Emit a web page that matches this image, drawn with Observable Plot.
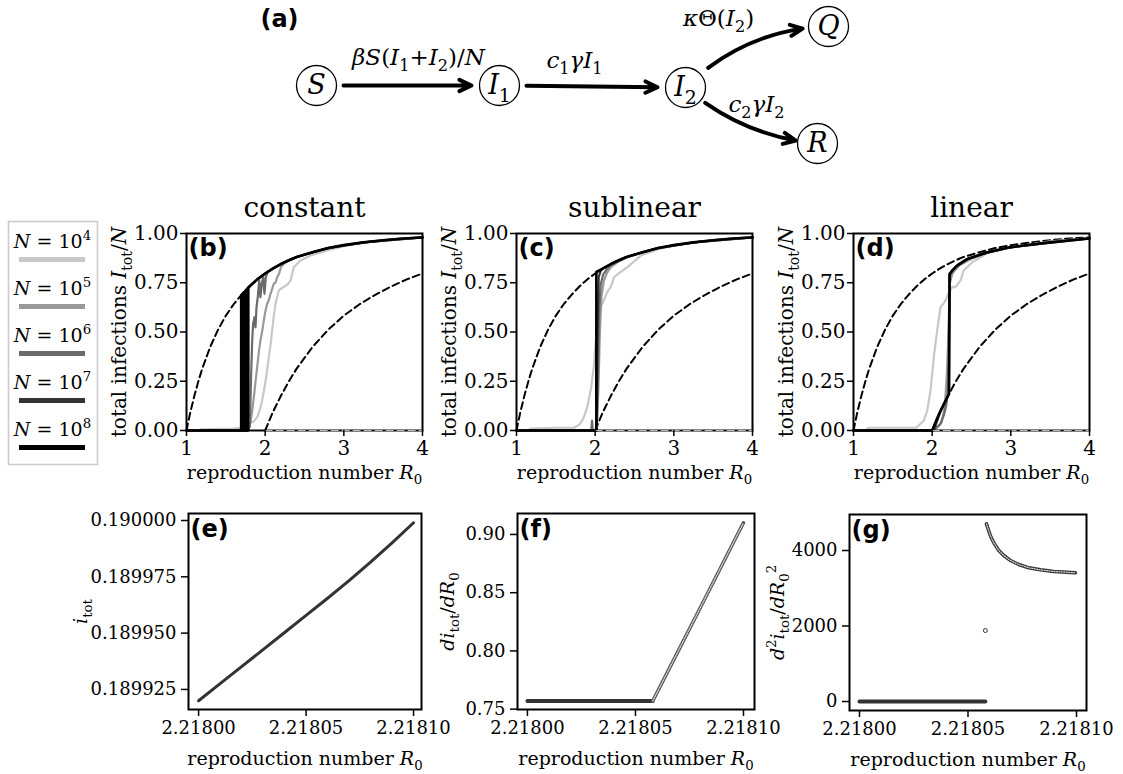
<!DOCTYPE html>
<html><head><meta charset="utf-8">
<script src="https://cdn.jsdelivr.net/npm/d3@7"></script>
<script src="https://cdn.jsdelivr.net/npm/@observablehq/plot@0.6"></script>
<style>
html,body{margin:0;padding:0;background:#fff;overflow:hidden;}
#fig{position:relative;width:1123px;height:774px;background:#fff;}
#fig svg{position:absolute;left:0;top:0;}
</style></head><body><div id="fig"></div>
<script>
// ---------------- DATA ----------------
const legendExp = [4, 5, 6, 7, 8];
const seriesColors = ["#c8c8c8", "#999999", "#6b6b6b", "#333333", "#000000"];

// deterministic branches (dashed)
const upperR0 = [1, 1.02, 1.05, 1.1, 1.15, 1.2, 1.3, 1.4, 1.5, 1.6, 1.7, 1.8, 1.9, 2.0, 2.1, 2.2, 2.3, 2.4, 2.6, 2.8, 3.0, 3.25, 3.5, 3.75, 4.0];
const upperI  = [0, 0.039, 0.095, 0.176, 0.249, 0.314, 0.423, 0.511, 0.583, 0.641, 0.689, 0.731, 0.767, 0.797, 0.823, 0.845, 0.864, 0.881, 0.905, 0.926, 0.941, 0.955, 0.966, 0.975, 0.980];
const lowerR0 = [2, 2.04, 2.1, 2.2, 2.3, 2.4, 2.6, 2.8, 3.0, 3.2, 3.4, 3.6, 3.8, 4.0];
const lowerI  = [0, 0.039, 0.095, 0.176, 0.249, 0.314, 0.423, 0.511, 0.583, 0.641, 0.689, 0.731, 0.767, 0.797];
const zeroR0 = [2, 4];
const zeroI = [0, 0];

// (b) constant
const constN4 = [[1,0],[1.15,0],[1.18,0.006],[1.3,0.007],[1.45,0.008],[1.6,0.01],[1.72,0.015],[1.78,0.025],[1.8,0.034],[1.85,0.045],[1.9,0.068],[1.95,0.13],[1.985,0.203],[2.02,0.29],[2.046,0.372],[2.07,0.44],[2.089,0.508],[2.11,0.58],[2.131,0.643],[2.174,0.711],[2.2,0.72],[2.237,0.728],[2.28,0.74],[2.322,0.761],[2.364,0.829],[2.45,0.863],[2.576,0.888],[2.79,0.914],[3.0,0.936],[3.25,0.953],[3.5,0.965],[3.75,0.974],[4,0.98]];
const constN5 = [[1,0],[1.76,0],[1.79,0.01],[1.813,0.042],[1.835,0.1],[1.856,0.169],[1.878,0.25],[1.898,0.321],[1.92,0.4],[1.94,0.457],[1.96,0.5],[1.983,0.558],[2.0,0.6],[2.025,0.643],[2.045,0.66],[2.068,0.694],[2.09,0.72],[2.11,0.745],[2.13,0.75],[2.153,0.778],[2.18,0.8],[2.2,0.83],[2.25,0.852],[2.3,0.862],[2.4,0.88],[2.6,0.905],[2.8,0.926],[3.0,0.941],[3.5,0.966],[4,0.98]];
const constN6 = [[1,0],[1.77,0],[1.79,0.01],[1.805,0.02],[1.822,0.288],[1.835,0.457],[1.847,0.541],[1.864,0.575],[1.877,0.524],[1.89,0.626],[1.906,0.677],[1.924,0.761],[1.94,0.677],[1.957,0.745],[1.975,0.778],[1.991,0.694],[2.008,0.778],[2.033,0.805],[2.1,0.823],[2.2,0.845],[2.4,0.881],[2.8,0.926],[3.25,0.955],[4,0.98]];
const constN7 = [[1,0],[1.70,0],[1.70,0.689],[1.712,0.694],[1.712,0],[1.728,0],[1.728,0.70],[1.742,0.706],[1.742,0],[1.758,0],[1.758,0.712],[1.772,0.718],[1.772,0],[1.79,0],[1.79,0.727],[1.8,0.731],[1.9,0.767],[2.0,0.797],[2.2,0.845],[2.4,0.881],[2.8,0.926],[3.25,0.955],[4,0.98]];
const constN8 = [[1,0],[1.695,0],[1.695,0.687],[1.705,0.691],[1.705,0],[1.72,0],[1.72,0.698],[1.733,0.703],[1.733,0],[1.748,0],[1.748,0.709],[1.762,0.715],[1.762,0],[1.778,0],[1.778,0.722],[1.8,0.731],[1.9,0.767],[2.0,0.797],[2.1,0.823],[2.2,0.845],[2.3,0.864],[2.4,0.881],[2.6,0.905],[2.8,0.926],[3.0,0.941],[3.25,0.955],[3.5,0.966],[3.75,0.975],[4.0,0.980]];

// (c) sublinear
const subN4 = [[1,0],[1.15,0],[1.18,0.01],[1.47,0.014],[1.73,0.014],[1.8,0.03],[1.85,0.06],[1.9,0.12],[1.95,0.22],[1.985,0.33],[2.0,0.42],[2.03,0.55],[2.06,0.62],[2.11,0.66],[2.15,0.70],[2.2,0.73],[2.24,0.778],[2.32,0.804],[2.41,0.829],[2.5,0.86],[2.58,0.888],[2.8,0.92],[3.0,0.938],[3.25,0.955],[3.5,0.966],[3.75,0.975],[4,0.98]];
const subN5 = [[1,0],[1.99,0],[2.02,0.01],[2.04,0.2],[2.06,0.5],[2.08,0.68],[2.11,0.76],[2.15,0.8],[2.2,0.83],[2.3,0.858],[2.4,0.878],[2.6,0.905],[2.8,0.926],[3.0,0.941],[3.5,0.966],[4,0.98]];
const subN6 = [[1,0],[1.95,0],[1.96,0.05],[1.97,0],[2.02,0],[2.035,0.25],[2.05,0.6],[2.07,0.74],[2.1,0.79],[2.15,0.82],[2.2,0.84],[2.4,0.881],[2.8,0.926],[3.25,0.955],[4,0.98]];
const subN7 = [[1,0],[2.0,0],[2.02,0],[2.03,0.5],[2.045,0.78],[2.07,0.81],[2.1,0.823],[2.2,0.845],[2.4,0.881],[2.8,0.926],[3.25,0.955],[4,0.98]];
const subN8 = [[1,0],[2.015,0],[2.015,0.805],[2.05,0.812],[2.1,0.823],[2.2,0.845],[2.3,0.864],[2.4,0.881],[2.6,0.905],[2.8,0.926],[3.0,0.941],[3.25,0.955],[3.5,0.966],[3.75,0.975],[4.0,0.980]];

// (d) linear
const linN4 = [[1,0],[1.15,0],[1.2,0.014],[1.5,0.014],[1.8,0.015],[1.852,0.034],[1.894,0.051],[1.937,0.10],[1.979,0.203],[2.021,0.372],[2.064,0.508],[2.106,0.626],[2.14,0.643],[2.17,0.66],[2.2,0.69],[2.254,0.728],[2.296,0.728],[2.36,0.761],[2.4,0.812],[2.445,0.829],[2.509,0.854],[2.7,0.9],[3.0,0.93],[3.5,0.96],[4,0.975]];
const linN5 = [[1,0],[1.95,0],[2.05,0.01],[2.12,0.04],[2.16,0.12],[2.19,0.3],[2.21,0.55],[2.225,0.75],[2.26,0.8],[2.35,0.84],[2.5,0.872],[2.7,0.903],[3.0,0.93],[3.5,0.958],[4,0.975]];
const linN6 = [[1,0],[2.0,0],[2.1,0.03],[2.15,0.08],[2.18,0.13],[2.2,0.2],[2.21,0.4],[2.22,0.72],[2.23,0.79],[2.3,0.83],[2.45,0.868],[2.7,0.903],[3.0,0.93],[3.5,0.958],[4,0.975]];
const linN7 = [[1,0],[2.0,0],[2.02,0],[2.1,0.09],[2.2,0.172],[2.212,0.182],[2.218,0.79],[2.25,0.808],[2.318,0.836],[2.445,0.869],[2.7,0.903],[3.0,0.93],[3.42,0.95],[4,0.975]];
const linN8 = [[1,0],[2.0,0],[2.04,0.039],[2.1,0.095],[2.2,0.176],[2.215,0.186],[2.222,0.795],[2.25,0.81],[2.318,0.838],[2.445,0.871],[2.7,0.905],[3.0,0.931],[3.42,0.951],[4,0.975]];

// (e) i_tot near the transition
const eR0   = [2.21800, 2.21801, 2.21802, 2.21803, 2.21804, 2.21805, 2.21806, 2.21807, 2.21808, 2.21809, 2.21810];
const eItot = [0.1899200, 0.1899276, 0.1899351, 0.1899427, 0.1899503, 0.1899579, 0.1899655, 0.1899733, 0.1899815, 0.1899901, 0.1899990];
// (f) first derivative
const fFlatR0 = [2.21800, 2.218058];
const fFlat   = [0.757, 0.757];
const fRiseR0 = [2.218058, 2.21807, 2.21808, 2.21809, 2.21810];
const fRise   = [0.757, 0.8007, 0.8371, 0.8736, 0.910];
// (g) second derivative
const gFlatR0 = [2.21800, 2.218058];
const gFlat   = [0, 0];
const gJumpR0 = [2.218058];
const gJump   = [1880];
const gUpperR0 = [2.2180585, 2.2180595, 2.2180606, 2.2180622, 2.2180642, 2.2180665, 2.2180695, 2.2180734, 2.218078, 2.2180834, 2.2180895, 2.2180995];
const gUpper   = [4705, 4529, 4352, 4176, 4000, 3868, 3736, 3630, 3542, 3489, 3445, 3410];

// ticks
const xTicksTop = [1, 2, 3, 4];
const yTicksTop = [0, 0.25, 0.5, 0.75, 1.0];
const xTicksBottom = [2.21800, 2.21805, 2.21810];
const yTicksE = [0.189925, 0.189950, 0.189975, 0.190000];
const yTicksF = [0.75, 0.80, 0.85, 0.90];
const yTicksG = [0, 2000, 4000];

// texts
const titles = ["constant", "sublinear", "linear"];
const letters = ["(b)", "(c)", "(d)", "(e)", "(f)", "(g)"];
const ylabTop = "total infections $I$_{tot}/$N$";
const xlab = "reproduction number $R$_{0}";
const ylabBottom = ["$i$_{tot}", "$di$_{tot}/$dR$_{0}", "$d$^{2}$i$_{tot}/$dR$_{0}^{2}"];

// schematic (a)
const nodeNames  = ["S", "I1", "I2", "Q", "R"];
const nodeLabels = ["$S$", "$I$_{1}", "$I$_{2}", "$Q$", "$R$"];
const straightLinks = [[0, 1], [1, 2]];
const upLinks = [[2, 3]];
const downLinks = [[2, 4]];
const edgeLabels = ["$βS$($I$_{1}+$I$_{2})/$N$", "$c$_{1}$γI$_{1}", "$κ$Θ($I$_{2})", "$c$_{2}$γI$_{2}"];

// ---------------- LAYOUT ----------------
const W = 1123, H = 774;
const SERIF = "DejaVu Serif";
const SANS = "DejaVu Sans";
const layout = {
  topY: [233, 430],
  topX: [[186, 422], [516, 752], [853, 1089]],
  botY: [[513, 709], [513, 709], [514, 710]],
  botX: [[188, 421], [517, 754], [849, 1086]],
  nodeX: [316, 499, 685, 828, 817],
  nodeY: [85, 85, 87, 26, 143],
  edgeLabelX: [418, 574, 718, 756],
  edgeLabelY: [57, 60, 18, 104],
  aLabel: [279, 19]
};

const zip = (xs, ys) => xs.map((x, i) => [x, ys[i]]);
const X = d => d[0], Y = d => d[1];
const style = fs => ({background: "transparent", fontFamily: SERIF, fontSize: fs + "px"});
const serifText = fs => ({fontFamily: SERIF, fontSize: fs});
const letterOpts = {frameAnchor: "top-left", textAnchor: "start", lineAnchor: "top", fontFamily: SANS, fontWeight: "bold", fontSize: 24};

function topPanel(k, series) {
  const [x0, x1] = layout.topX[k];
  const [y0, y1] = layout.topY;
  return Plot.plot({
    width: W, height: H,
    marginLeft: x0, marginRight: W - x1, marginTop: y0, marginBottom: H - y1,
    x: {domain: [1, 4]}, y: {domain: [0, 1]},
    style: style(20),
    marks: [
      Plot.line(zip(upperR0, upperI), {x: X, y: Y, stroke: "black", strokeWidth: 2, strokeDasharray: "7,4"}),
      Plot.line(zip(lowerR0, lowerI), {x: X, y: Y, stroke: "black", strokeWidth: 2, strokeDasharray: "7,4"}),
      ...series.map((s, i) => Plot.line(s, {x: X, y: Y, stroke: seriesColors[i], strokeWidth: i === 4 ? 2.6 : 2.2})),
      Plot.frame({stroke: "black", strokeWidth: 2}),
      Plot.line(zip(zeroR0, zeroI), {x: X, y: Y, stroke: "#bbbbbb", strokeWidth: 1.2, strokeDasharray: "7,4"}),
      Plot.axisX({ticks: xTicksTop, tickFormat: d => String(d), tickSize: 6, tickPadding: 4, strokeWidth: 1.5, label: null, ...serifText(20)}),
      Plot.axisY({ticks: yTicksTop, tickFormat: d => d.toFixed(2), tickSize: 6, tickPadding: 2, strokeWidth: 1.5, label: null, ...serifText(20)}),
      Plot.text([letters[k]], {...letterOpts, dx: 2, dy: 5}),
      Plot.text([titles[k]], {frameAnchor: "top", textAnchor: "middle", lineAnchor: "middle", dy: -25, ...serifText(28)}),
      Plot.text([ylabTop], {frameAnchor: "left", textAnchor: "middle", lineAnchor: "middle", dx: -67, rotate: -90, ...serifText(20)}),
      Plot.text([xlab], {frameAnchor: "bottom", textAnchor: "middle", lineAnchor: "middle", dy: 42, ...serifText(19)})
    ]
  });
}

function bottomPanel(k, xDomain, yDomain, yTicks, yFmt, ylabDx, marks) {
  const [x0, x1] = layout.botX[k];
  const [y0, y1] = layout.botY[k];
  return Plot.plot({
    width: W, height: H,
    marginLeft: x0, marginRight: W - x1, marginTop: y0, marginBottom: H - y1,
    x: {domain: xDomain}, y: {domain: yDomain},
    style: style(18),
    marks: [
      ...marks,
      Plot.frame({stroke: "black", strokeWidth: 2}),
      Plot.axisX({ticks: xTicksBottom, tickFormat: d => d.toFixed(5), tickSize: 7, tickPadding: 5, strokeWidth: 1.5, label: null, ...serifText(18)}),
      Plot.axisY({ticks: yTicks, tickFormat: yFmt, tickSize: 7, tickPadding: 5, strokeWidth: 1.5, label: null, ...serifText(18)}),
      Plot.text([letters[k + 3]], {...letterOpts, dx: 2, dy: 6}),
      Plot.text([ylabBottom[k]], {frameAnchor: "left", textAnchor: "middle", lineAnchor: "middle", dx: ylabDx, rotate: -90, ...serifText(19)}),
      Plot.text([xlab], {frameAnchor: "bottom", textAnchor: "middle", lineAnchor: "middle", dy: 49, ...serifText(19)})
    ]
  });
}

const fig = document.getElementById("fig");
const plots = [];

// (a) schematic
const nx = (d, i) => layout.nodeX[i], ny = (d, i) => layout.nodeY[i];
const arrowOpts = {x1: d => layout.nodeX[d[0]], y1: d => layout.nodeY[d[0]], x2: d => layout.nodeX[d[1]], y2: d => layout.nodeY[d[1]], stroke: "black", strokeWidth: 4, headLength: 5, headAngle: 50};
plots.push(Plot.plot({
  width: W, height: H, margin: 0,
  x: {type: "identity", axis: null}, y: {type: "identity", axis: null},
  style: style(22),
  marks: [
    Plot.arrow(straightLinks, {...arrowOpts, insetStart: 27, insetEnd: 28}),
    Plot.arrow(upLinks, {...arrowOpts, bend: 22, insetStart: 30, insetEnd: 26}),
    Plot.arrow(downLinks, {...arrowOpts, bend: -18, insetStart: 25, insetEnd: 22}),
    Plot.dot(nodeNames, {x: nx, y: ny, r: 20, fill: "white", stroke: "black", strokeWidth: 1.3}),
    Plot.text(nodeLabels, {x: nx, y: ny, ...serifText(27)}),
    Plot.text(edgeLabels, {x: (d, i) => layout.edgeLabelX[i], y: (d, i) => layout.edgeLabelY[i], ...serifText(23)}),
    Plot.text(["(a)"], {x: layout.aLabel[0], y: layout.aLabel[1], fontFamily: SANS, fontWeight: "bold", fontSize: 24})
  ]
}));

// legend
plots.push(Plot.plot({
  width: W, height: H,
  marginLeft: 8, marginRight: W - 97, marginTop: 221, marginBottom: H - 464,
  x: {domain: [0, 1], range: [19, 85], axis: null},
  y: {type: "point", domain: legendExp, range: [240, 430], padding: 0, axis: null},
  style: style(19),
  marks: [
    Plot.frame({stroke: "#cccccc", strokeWidth: 1.6}),
    ...legendExp.map((e, i) => Plot.ruleY([e], {y: d => d, x1: 0, x2: 1, dy: 18, stroke: seriesColors[i], strokeWidth: 5})),
    Plot.text(legendExp, {x: 0.5, y: d => d, text: d => `$N$ = 10^{${d}}`, ...serifText(19)})
  ]
}));

plots.push(topPanel(0, [constN4, constN5, constN6, constN7, constN8]));
plots.push(topPanel(1, [subN4, subN5, subN6, subN7, subN8]));
plots.push(topPanel(2, [linN4, linN5, linN6, linN7, linN8]));

plots.push(bottomPanel(0, [2.2179953, 2.2181037], [0.1899161, 0.1900031], yTicksE, d => d.toFixed(6), -108, [
  Plot.line(zip(eR0, eItot), {x: X, y: Y, stroke: "#333333", strokeWidth: 3})
]));
plots.push(bottomPanel(1, [2.2179954, 2.2181051], [0.7497, 0.918], yTicksF, d => d.toFixed(2), -70, [
  Plot.line(zip(fFlatR0, fFlat), {x: X, y: Y, stroke: "#333333", strokeWidth: 4}),
  Plot.line(zip(fRiseR0, fRise), {x: X, y: Y, stroke: "#555555", strokeWidth: 3.5}),
  Plot.line(zip(fRiseR0, fRise), {x: X, y: Y, stroke: "#dddddd", strokeWidth: 1.3, strokeDasharray: "1,1.5"})
]));
plots.push(bottomPanel(2, [2.2179954, 2.2181046], [-238, 4954], yTicksG, d => String(d), -72, [
  Plot.line(zip(gFlatR0, gFlat), {x: X, y: Y, stroke: "#333333", strokeWidth: 4}),
  Plot.line(zip(gUpperR0, gUpper), {x: X, y: Y, stroke: "#333333", strokeWidth: 3.5}),
  Plot.line(zip(gUpperR0, gUpper), {x: X, y: Y, stroke: "#dddddd", strokeWidth: 1.2, strokeDasharray: "1,1.5"}),
  Plot.dot(zip(gJumpR0, gJump), {x: X, y: Y, r: 2, stroke: "#333333", strokeWidth: 1, fill: "white"})
]));

for (const p of plots) fig.appendChild(p);

// math-like typesetting: $..$ italic, _{..} subscript, ^{..} superscript
function mathify(svg) {
  const NS = "http://www.w3.org/2000/svg";
  for (const t of svg.querySelectorAll("text")) {
    const s = t.textContent;
    if (!/[$_^]/.test(s) || t.querySelector("tspan")) continue;
    const fs = parseFloat(getComputedStyle(t).fontSize) || 16;
    t.textContent = "";
    let shift = 0, m;
    const re = /\$([^$]*)\$|_\{([^}]*)\}|\^\{([^}]*)\}|([^$_^]+)/g;
    while ((m = re.exec(s))) {
      const ts = document.createElementNS(NS, "tspan");
      let target = 0;
      if (m[1] !== undefined) { ts.textContent = m[1]; ts.setAttribute("font-style", "italic"); }
      else if (m[2] !== undefined) { ts.textContent = m[2]; ts.setAttribute("font-size", fs * 0.7); target = 0.28 * fs; }
      else if (m[3] !== undefined) { ts.textContent = m[3]; ts.setAttribute("font-size", fs * 0.7); target = -0.42 * fs; }
      else ts.textContent = m[4];
      if (target !== shift) { ts.setAttribute("dy", target - shift); shift = target; }
      t.appendChild(ts);
    }
  }
}
for (const p of plots) mathify(p);
</script></body></html>
